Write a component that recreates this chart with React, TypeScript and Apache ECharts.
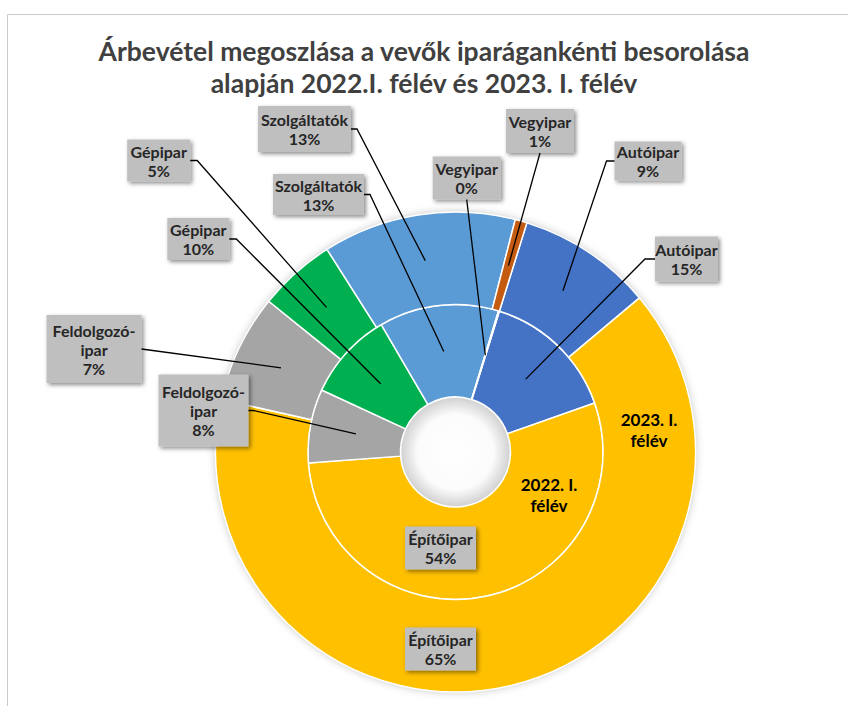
import React, { useEffect, useRef } from 'react';
import * as echarts from 'echarts';

// ---- data ----
const categories = ['Autóipar', 'Építőipar', 'Feldolgozó-ipar', 'Gépipar', 'Szolgáltatók', 'Vegyipar'];
const values2022 = [14.8, 54.2, 8.1, 9.7, 13.1, 0.1];
const values2023 = [9.1, 64.6, 7.3, 5.2, 13.0, 0.8];
const seriesNames = ['2022. I. félév', '2023. I. félév'];
const colors = ['#4472C4', '#FFC000', '#A5A5A5', '#00B050', '#5B9BD5', '#C55A11'];
const titleLines = ['Árbevétel megoszlása a vevők iparágankénti besorolása', 'alapján 2022.I. félév és 2023. I. félév'];
const ringNameLines = [['2022. I.', 'félév'], ['2023. I.', 'félév']];

// ---- layout ----
const CX = 455.5;
const CY = 452;
const R_HOLE = 55;
const R_MID = 147.5;
const R_OUT = 240;
const START_DEG = 17.3; // clockwise from 12 o'clock
const FONT = 'Lato, "Open Sans", sans-serif';
const LABEL_FS = 16;
const LABEL_LH = 19;

type LCfg = { c: [number, number]; w: number; h: number; side?: 'left' | 'right' | 'bottom'; stub?: number };
const labelCfg: LCfg[][] = [
  [
    { c: [686.5, 259], w: 63, h: 45, side: 'left', stub: 10 },
    { c: [440.5, 548], w: 71, h: 43 },
    { c: [203.5, 410.5], w: 90, h: 72, side: 'right', stub: 5 },
    { c: [198.3, 239], w: 62, h: 42, side: 'right', stub: 7 },
    { c: [318.5, 194.5], w: 91, h: 41, side: 'right', stub: 6 },
    { c: [466.7, 178], w: 68, h: 43, side: 'bottom' },
  ],
  [
    { c: [648, 161], w: 67, h: 39, side: 'left', stub: 8 },
    { c: [440.5, 649], w: 71, h: 43 },
    { c: [94, 349], w: 95, h: 68, side: 'right', stub: 0 },
    { c: [158.7, 160.5], w: 63, h: 42, side: 'right', stub: 7 },
    { c: [304.5, 129], w: 93, h: 46, side: 'right', stub: 6 },
    { c: [540, 131], w: 68, h: 44, side: 'bottom' },
  ],
];
const ringNamePos: [number, number][] = [[549, 494.5], [649, 429.5]];

function anchorsFor(values: number[], rIn: number, rOut: number): [number, number][] {
  const total = values.reduce((a, b) => a + b, 0);
  let cum = 0;
  const r = (rIn + rOut) / 2;
  return values.map((v) => {
    const mid = cum + v / 2;
    cum += v;
    const a = ((START_DEG + (360 * mid) / total) * Math.PI) / 180;
    return [CX + r * Math.sin(a), CY - r * Math.cos(a)] as [number, number];
  });
}

function labelLines(name: string): string[] {
  return name.replace('-', '-\n').split('\n');
}

export default function App() {
  const ref = useRef<HTMLDivElement>(null);
  useEffect(() => {
    if (!ref.current) return;
    const chart = echarts.init(ref.current, null, { renderer: 'svg' });
    const anchors = [anchorsFor(values2022, R_HOLE, R_MID), anchorsFor(values2023, R_MID, R_OUT)];

    const labelLayout = (p: any) => {
      const cfg = labelCfg[p.seriesIndex][p.dataIndex];
      const w = p.labelRect.width;
      const h = p.labelRect.height;
      const [cx, cy] = cfg.c;
      let x = cx - w / 2;
      let y = cy - h / 2;
      if (p.align === 'center') x = cx;
      else if (p.align === 'right') x = cx + w / 2;
      if (p.verticalAlign === 'middle') y = cy;
      else if (p.verticalAlign === 'bottom') y = cy + h / 2;
      return { x, y };
    };

    const tokenStyle = {
      color: '#262626',
      fontFamily: FONT,
      fontWeight: 'bold',
      fontSize: LABEL_FS,
      lineHeight: LABEL_LH,
      align: 'center',
    };

    const makeSeries = (idx: number, values: number[], radius: number[]) => ({
      type: 'pie',
      name: seriesNames[idx],
      center: [CX, CY],
      radius,
      startAngle: 90 - START_DEG,
      clockwise: true,
      avoidLabelOverlap: false,
      z: 2,
      itemStyle: { borderColor: '#FFFFFF', borderWidth: 1.5 },
      label: {
        show: true,
        position: 'outside',
        formatter: (p: any) =>
          [...labelLines(String(p.name)), `${Math.round(p.percent)}%`].map((l) => `{c|${l}}`).join('\n'),
        color: '#262626',
        fontFamily: FONT,
        fontWeight: 'bold',
        fontSize: LABEL_FS,
        lineHeight: LABEL_LH,
        backgroundColor: '#BFBFBF',
        shadowColor: 'rgba(0,0,0,0.45)',
        shadowBlur: 4,
        shadowOffsetX: 2,
        shadowOffsetY: 2,
      },
      labelLine: { show: false },
      labelLayout,
      data: categories.map((c, i) => {
        const cfg = labelCfg[idx][i];
        const nLines = labelLines(c).length + 1;
        const padY = Math.max(0, (cfg.h - nLines * LABEL_LH) / 2);
        return {
          name: c,
          value: values[i],
          itemStyle: { color: colors[i] },
          label: { padding: [padY, 0], rich: { c: { ...tokenStyle, width: cfg.w } } },
        };
      }),
    });

    const leaderLines: any[] = [];
    labelCfg.forEach((row, si) =>
      row.forEach((cfg, di) => {
        if (!cfg.side) return;
        const [cx, cy] = cfg.c;
        const a = anchors[si][di];
        let pts: number[][];
        if (cfg.side === 'right') pts = [[cx + cfg.w / 2, cy], [cx + cfg.w / 2 + (cfg.stub || 0), cy], a];
        else if (cfg.side === 'left') pts = [[cx - cfg.w / 2, cy], [cx - cfg.w / 2 - (cfg.stub || 0), cy], a];
        else pts = [[cx, cy + cfg.h / 2], a];
        leaderLines.push({
          type: 'polyline',
          z: 15,
          silent: true,
          shape: { points: pts },
          style: { stroke: '#000000', lineWidth: 1.3, fill: 'none' },
        });
      })
    );

    chart.setOption({
      animation: false,
      backgroundColor: '#FFFFFF',
      title: {
        text: titleLines.join('\n'),
        left: 'center',
        top: 30,
        textStyle: {
          fontFamily: FONT,
          fontSize: 26.5,
          fontWeight: 'bold',
          color: '#404040',
          lineHeight: 32,
        },
      },
      graphic: [
        {
          type: 'rect',
          z: -10,
          silent: true,
          shape: { x: 7.5, y: 14.5, width: 1000, height: 1000 },
          style: { fill: 'none', stroke: '#C8CCCB', lineWidth: 1 },
        },
        {
          type: 'circle',
          z: 0,
          silent: true,
          shape: { cx: CX, cy: CY, r: R_OUT - 1 },
          style: { fill: '#FFFFFF', shadowBlur: 10, shadowColor: 'rgba(0,0,0,0.3)' },
        },
        {
          type: 'circle',
          z: 10,
          silent: true,
          shape: { cx: CX, cy: CY, r: R_HOLE - 0.8 },
          style: {
            fill: {
              type: 'radial', x: 0.5, y: 0.5, r: 0.5,
              colorStops: [
                { offset: 0, color: '#FFFFFF' },
                { offset: 0.7, color: '#FBFBFB' },
                { offset: 1, color: '#D2D2D2' },
              ],
            },
          },
        },
        ...leaderLines,
        ...ringNameLines.map((lines, i) => ({
          type: 'text',
          z: 20,
          silent: true,
          x: ringNamePos[i][0],
          y: ringNamePos[i][1],
          style: {
            text: lines.join('\n'),
            fill: '#000000',
            font: `bold 17px ${FONT}`,
            lineHeight: 21,
            textAlign: 'center',
            textVerticalAlign: 'middle',
          },
        })),
      ],
      series: [
        makeSeries(0, values2022, [R_HOLE, R_MID]),
        makeSeries(1, values2023, [R_MID, R_OUT]),
      ],
    });
    return () => chart.dispose();
  }, []);
  return <div ref={ref} style={{ position: 'absolute', left: 0, top: 0, width: 848, height: 706 }} />;
}
